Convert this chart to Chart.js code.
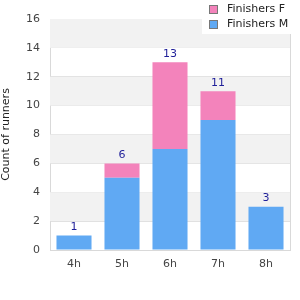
<!DOCTYPE html>
<html>
<head>
<meta charset="utf-8">
<script src="https://cdn.jsdelivr.net/npm/chart.js@4"></script>
<style>
  html, body { margin: 0; padding: 0; background: #fff; }
  #wrap { width: 300px; height: 300px; position: relative; }
</style>
</head>
<body>
<div id="wrap"><canvas id="chart"></canvas></div>
<script>
const categories = ['4h', '5h', '6h', '7h', '8h'];
const finishersM = [1, 5, 7, 9, 3];
const finishersF = [0, 1, 6, 2, 0];
const yTicks = [0, 2, 4, 6, 8, 10, 12, 14, 16];

const FONT = '"DejaVu Sans", Verdana, sans-serif';
const PINK = '#f383bb';
const BLUE = '#60a9f3';

// alternating grey bands behind bars
const bands = {
    id: 'bands',
    beforeDatasetsDraw(chart) {
        const { ctx, chartArea: a, scales: { y } } = chart;
        ctx.save();
        for (let v = 2; v < 16; v += 4) {
            const top = y.getPixelForValue(v + 2), bot = y.getPixelForValue(v);
            ctx.fillStyle = '#f2f2f2';
            ctx.fillRect(a.left, top, a.right - a.left, bot - top);
        }
        ctx.restore();
    }
};

// totals above each stack + legend box in top-right corner
const extras = {
    id: 'extras',
    afterDraw(chart) {
        const { ctx, scales: { x, y } } = chart;
        ctx.save();
        ctx.font = '11px ' + FONT;
        ctx.fillStyle = '#1f1f99';
        ctx.textAlign = 'center';
        ctx.textBaseline = 'bottom';
        categories.forEach((c, i) => {
            const total = finishersM[i] + finishersF[i];
            ctx.fillText(String(total), x.getPixelForValue(i), y.getPixelForValue(total) - 3);
        });

        ctx.fillStyle = '#fff';
        ctx.fillRect(202, 0, 98, 34);
        const items = [['Finishers F', PINK], ['Finishers M', BLUE]];
        ctx.textAlign = 'left';
        ctx.textBaseline = 'middle';
        items.forEach(([label, col], i) => {
            const cy = 9 + i * 15;
            ctx.fillStyle = col;
            ctx.fillRect(209, cy - 4, 8, 8);
            ctx.strokeStyle = '#777';
            ctx.lineWidth = 1;
            ctx.strokeRect(209.5, cy - 3.5, 8, 8);
            ctx.fillStyle = '#222';
            ctx.fillText(label, 227, cy);
        });
        ctx.restore();
    }
};

new Chart(document.getElementById('chart'), {
    type: 'bar',
    data: {
        labels: categories,
        datasets: [
            { label: 'Finishers M', data: finishersM, backgroundColor: BLUE, stack: 's' },
            { label: 'Finishers F', data: finishersF, backgroundColor: PINK, stack: 's' }
        ]
    },
    options: {
        responsive: true,
        maintainAspectRatio: false,
        animation: false,
        layout: { padding: { top: 19, right: 10, left: 0, bottom: 0 } },
        datasets: { bar: { categoryPercentage: 1, barPercentage: 0.73 } },
        plugins: { legend: { display: false }, tooltip: { enabled: false } },
        scales: {
            x: {
                stacked: true,
                afterFit: s => { s.height = 50; },
                grid: { display: false, drawTicks: false },
                border: { display: true, color: '#d9d9d9', width: 1 },
                ticks: { color: '#444', font: { family: FONT, size: 11 }, padding: 8 }
            },
            y: {
                stacked: true,
                min: 0, max: 16,
                afterFit: s => { s.width = 50; },
                afterBuildTicks: s => { s.ticks = yTicks.map(v => ({ value: v })); },
                grid: { color: '#dedede', drawTicks: false },
                border: { display: true, color: '#d9d9d9' },
                title: { display: true, text: 'Count of runners', color: '#222', font: { family: FONT, size: 11 }, padding: 0 },
                ticks: { color: '#444', font: { family: FONT, size: 11 }, padding: 10 }
            }
        }
    },
    plugins: [bands, extras, {
        id: 'rightBorder',
        afterDatasetsDraw(chart) {
            const { ctx, chartArea: a } = chart;
            ctx.save();
            ctx.strokeStyle = '#d9d9d9';
            ctx.beginPath();
            ctx.moveTo(a.right + 0.5, a.top);
            ctx.lineTo(a.right + 0.5, a.bottom);
            ctx.stroke();
            ctx.restore();
        }
    }]
});
</script>
</body>
</html>
